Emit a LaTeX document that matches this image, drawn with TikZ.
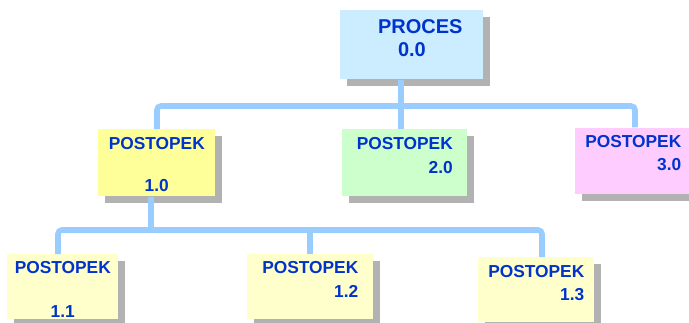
\documentclass[tikz,border=0pt]{standalone}
\usepackage{fontspec}
\setmainfont{Liberation Sans}
\usepackage{tikz}
\usetikzlibrary{shadows}
\definecolor{wbstext}{RGB}{0,51,204}
\definecolor{wbsroot}{RGB}{204,236,255}
\definecolor{wbsone}{RGB}{255,255,153}
\definecolor{wbstwo}{RGB}{204,255,204}
\definecolor{wbsthree}{RGB}{255,204,255}
\definecolor{wbssub}{RGB}{255,255,204}
\definecolor{wbsshadow}{RGB}{178,178,178}
\definecolor{wbslink}{RGB}{153,204,255}

\begin{document}
\begin{tikzpicture}[x=0.75pt,y=-0.75pt,
    wbsbox/.style={rectangle,inner sep=0pt,anchor=north west,text=wbstext,
      font=\bfseries\fontsize{13}{18}\selectfont,
      drop shadow={shadow xshift=5.25pt,shadow yshift=-5.25pt,fill=wbsshadow,opacity=1}},
    wbsline/.style={draw=wbslink,line width=4.2pt,rounded corners=3pt}]
    \useasboundingbox (0,0) rectangle (689,322);
    \clip (0,0) rectangle (689,322);
    \node[wbsbox,fill=wbsroot,align=left,minimum width=107.25pt,minimum height=51.75pt,
       text height=34.5pt,text depth=17.25pt,font=\bfseries\fontsize{15}{17.25}\selectfont] (proc) at (340,10)
       {\hspace*{12.75pt}PROCES\\\hspace*{27.75pt}0.0};
    \node[wbsbox,fill=wbsone,align=center,minimum width=87.75pt,minimum height=50.25pt,
       text height=46.5pt,text depth=3.75pt] (p10) at (98,129) {POSTOPEK\\[13.5pt]1.0};
    \node[wbsbox,fill=wbstwo,align=right,minimum width=93.75pt,minimum height=50.25pt,
       text height=33.2pt,text depth=17.05pt] (p20) at (342,129) {POSTOPEK\\2.0};
    \node[wbsbox,fill=wbsthree,align=right,minimum width=87pt,minimum height=49.5pt,
       text height=32pt,text depth=17.5pt] (p30) at (575,127.3) {POSTOPEK\\[-1pt]3.0};
    \node[wbsbox,fill=wbssub,align=center,minimum width=83.25pt,minimum height=48.75pt,
       text height=47.5pt,text depth=1.25pt] (p11) at (7,254) {POSTOPEK\\[15pt]1.1};
    \node[wbsbox,fill=wbssub,align=right,minimum width=94.5pt,minimum height=48.75pt,
       text height=32.5pt,text depth=16.25pt] (p12) at (247,254) {POSTOPEK\\1.2};
    \node[wbsbox,fill=wbssub,align=right,minimum width=87pt,minimum height=48.75pt,
       text height=32.25pt,text depth=16.5pt] (p13) at (478,257) {POSTOPEK\\[-1pt]1.3};
    \coordinate (t10) at (157,106);
    \coordinate (t20) at (401,106);
    \coordinate (t30) at (635,106);
    \coordinate (u10) at (151,230);
    \coordinate (u11) at (58,230);
    \coordinate (u12) at (310,230);
    \coordinate (u13) at (542,230);
    \draw[wbsline] (p10.north -| t10) -- (t10) -- (t30) -- (p30.north -| t30);
    \draw[wbsline] (proc.south -| t20) -- (p20.north -| t20);
    \draw[wbsline] (p11.north -| u11) -- (u11) -- (u13) -- (p13.north -| u13);
    \draw[wbsline] (p12.north -| u12) -- (u12);
    \draw[wbsline] (p10.south -| u10) -- (u10);
\end{tikzpicture}
\end{document}
